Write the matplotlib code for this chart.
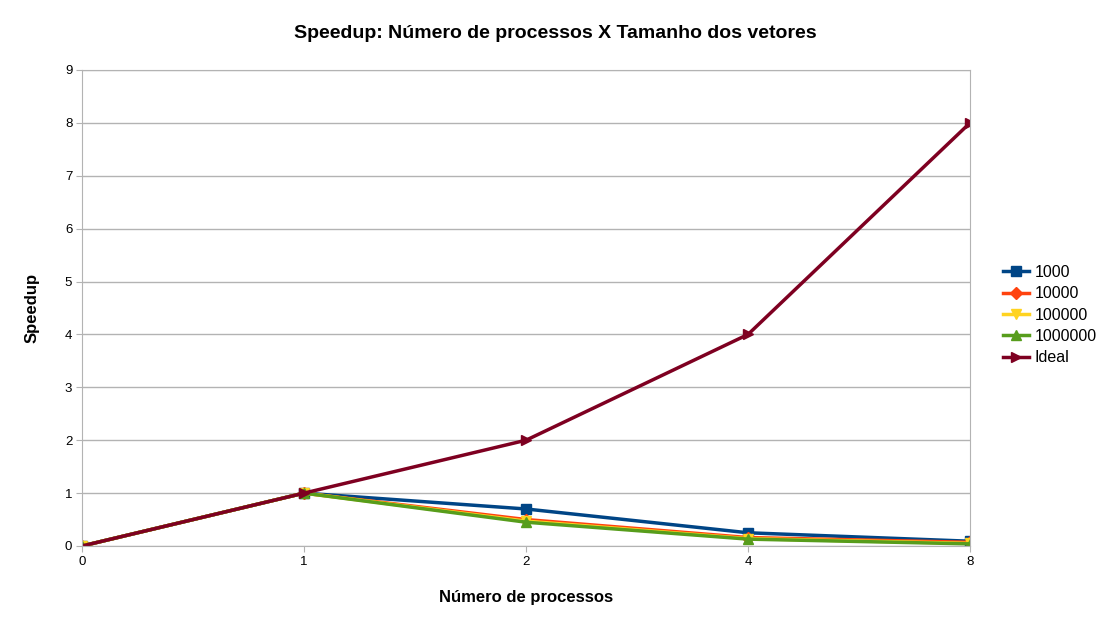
import numpy as np
import matplotlib.pyplot as plt

procs = ['0', '1', '2', '4', '8']
s1000 = [0, 1, 0.70, 0.25, 0.09]
s10000 = [0, 1, 0.50, 0.16, 0.07]
s100000 = [0, 1, 0.47, 0.14, 0.05]
s1000000 = [0, 1, 0.45, 0.13, 0.04]
ideal = [0, 1, 2, 4, 8]

series = [
    ('1000', s1000, '#004586', 's'),
    ('10000', s10000, '#ff420e', 'D'),
    ('100000', s100000, '#ffd320', 'v'),
    ('1000000', s1000000, '#579d1c', '^'),
    ('Ideal', ideal, '#7e0021', '>'),
]

plt.rcParams['font.family'] = ['Liberation Sans', 'DejaVu Sans']

fig = plt.figure(figsize=(11.11, 6.25), dpi=100)
ax = fig.add_axes([82/1111, 1-546/625, (970-82)/1111, (546-70)/625])

x = np.arange(len(procs))
for name, vals, col, mk in series:
    ms = 6 if mk == 'D' else 7
    ax.plot(x, vals, color=col, linewidth=2.5, marker=mk, markersize=ms, label=name)

ax.set_xlim(0, len(procs)-1)
ax.set_ylim(0, 9)
ax.set_xticks(x)
ax.set_xticklabels(procs)
ax.set_yticks(range(10))
ax.yaxis.grid(True, color='#b3b3b3', linewidth=1)
ax.set_axisbelow(True)
for sp in ax.spines.values():
    sp.set_color('#b3b3b3')
ax.tick_params(axis='both', colors='#b3b3b3', labelcolor='black', labelsize=9.5, length=4, pad=3)

# title centred on the whole figure, not the axes
fig.suptitle('Speedup: Número de processos X Tamanho dos vetores', fontsize=14, fontweight='bold',
             x=0.5, y=1-34/625, va='center')
ax.set_xlabel('Número de processos', fontsize=12, fontweight='bold', labelpad=16)
ax.set_ylabel('Speedup', fontsize=12, fontweight='bold', labelpad=18)

ax.legend(loc='center left', bbox_to_anchor=(1.03, 0.485), frameon=False, fontsize=11.5,
          handlelength=1.6, handletextpad=0.4, labelspacing=0.4, borderaxespad=0)

fig.savefig('out.png', dpi=100)
